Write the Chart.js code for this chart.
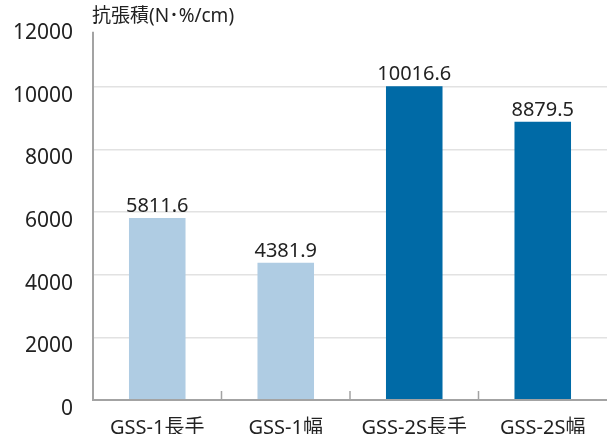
<!DOCTYPE html>
<html>
<head>
<meta charset="utf-8">
<script src="https://cdn.jsdelivr.net/npm/chart.js@4/dist/chart.umd.min.js"></script>
<style>
  html, body { margin: 0; padding: 0; background: #fff; }
  #wrap { width: 615px; height: 434px; }
</style>
</head>
<body>
<div id="wrap"><canvas id="miGrafica" width="615" height="434"></canvas></div>
<script>
// categorías y valores (抗張積)
const categorias = ['GSS-1長手', 'GSS-1幅', 'GSS-2S長手', 'GSS-2S幅'];
const valores = [5811.6, 4381.9, 10016.6, 8879.5];
const coloresBarra = ['#afcce3', '#afcce3', '#006aa6', '#006aa6'];
const ticksY = [0, 2000, 4000, 6000, 8000, 10000, 12000];
const tituloEje = '抗張積(N･%/cm)';

const fuente = '"Noto Sans", "Noto Sans CJK JP", sans-serif';

// ejes, título y etiquetas dibujados a mano
const extras = {
    id: 'extras',
    afterDatasetsDraw(chart) {
        const { ctx, chartArea, scales } = chart;
        const x = scales.x, y = scales.y;
        ctx.save();
        ctx.strokeStyle = '#a3a3a3';
        ctx.lineWidth = 2;
        // eje Y
        ctx.beginPath();
        ctx.moveTo(chartArea.left, y.getPixelForValue(11750));
        ctx.lineTo(chartArea.left, chartArea.bottom + 1);
        ctx.stroke();
        // eje X
        ctx.beginPath();
        ctx.moveTo(chartArea.left - 1, chartArea.bottom);
        ctx.lineTo(chartArea.right, chartArea.bottom);
        ctx.stroke();
        // marcas entre categorías (hacia dentro)
        ctx.lineWidth = 1.5;
        for (let i = 1; i < categorias.length; i++) {
            const px = (x.getPixelForValue(i - 1) + x.getPixelForValue(i)) / 2;
            ctx.beginPath();
            ctx.moveTo(px, chartArea.bottom - 9);
            ctx.lineTo(px, chartArea.bottom);
            ctx.stroke();
        }
        // valores encima de las barras
        ctx.fillStyle = '#222';
        ctx.font = '20px ' + fuente;
        ctx.textAlign = 'center';
        ctx.textBaseline = 'alphabetic';
        chart.getDatasetMeta(0).data.forEach((bar, i) => {
            ctx.fillText(valores[i].toFixed(1), bar.x, bar.y - 6);
        });
        // título del eje
        ctx.font = '19px ' + fuente;
        ctx.textAlign = 'left';
        ctx.textBaseline = 'middle';
        ctx.fillText(tituloEje, 92, 17);
        ctx.restore();
    }
};

const ctx = document.getElementById('miGrafica').getContext('2d');
const chart = new Chart(ctx, {
    type: 'bar',
    data: {
        labels: categorias,
        datasets: [{
            data: valores,
            backgroundColor: coloresBarra,
            barPercentage: 0.44,
            categoryPercentage: 1
        }]
    },
    options: {
        responsive: false,
        animation: false,
        layout: { padding: { top: 24, right: 8, left: 0, bottom: 0 } },
        plugins: { legend: { display: false }, tooltip: { enabled: false } },
        scales: {
            x: {
                grid: { display: false },
                border: { display: false },
                ticks: { color: '#222', font: { size: 20, family: fuente }, padding: 8, maxRotation: 0 },
                afterFit(s) { s.height = 34; }
            },
            y: {
                min: 0,
                max: 12000,
                afterBuildTicks(s) { s.ticks = ticksY.map(v => ({ value: v })); },
                grid: {
                    drawTicks: false,
                    lineWidth: 1.5,
                    color: c => (c.tick.value === 0 || c.tick.value === 12000) ? 'rgba(0,0,0,0)' : '#e2e2e2'
                },
                border: { display: false },
                ticks: {
                    color: '#222',
                    font: { size: 21, family: fuente },
                    padding: 20,
                    labelOffset: 9,
                    callback: v => String(v)
                },
                afterFit(s) {
                    s.width = 93;
                    // sin margen extra arriba por la etiqueta de 12000
                    s.paddingTop = 0;
                }
            }
        }
    },
    plugins: [extras]
});
</script>
</body>
</html>
